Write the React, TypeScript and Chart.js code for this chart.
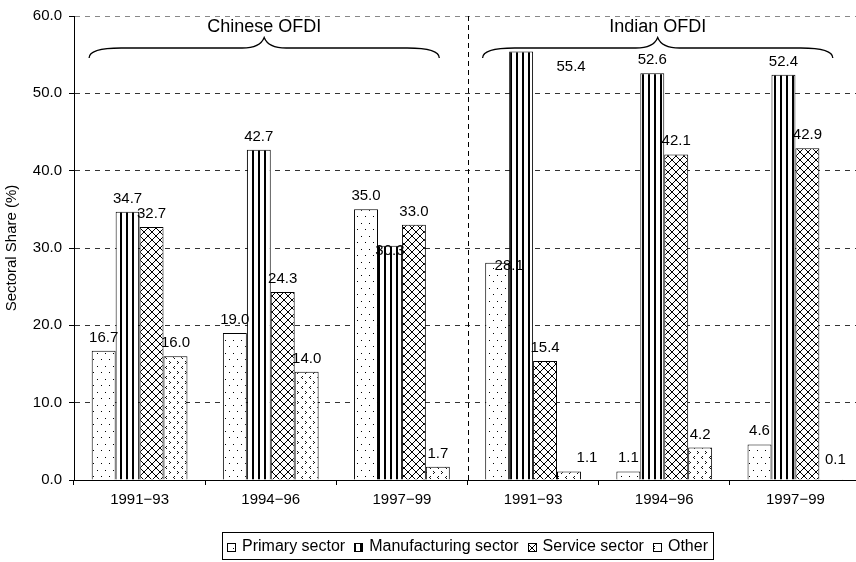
import React, { useEffect, useRef } from 'react';
import { Chart, registerables } from 'chart.js';

Chart.register(...registerables);

const categories = ['1991\u221293', '1994\u221296', '1997\u221299', '1991\u221293', '1994\u221296', '1997\u221299'];
const seriesNames = ['Primary sector', 'Manufacturing sector', 'Service sector', 'Other'];
const primary = [16.7, 19.0, 35.0, 28.1, 1.1, 4.6];
const manufacturing = [34.7, 42.7, 30.3, 55.4, 52.6, 52.4];
const service = [32.7, 24.3, 33.0, 15.4, 42.1, 42.9];
const other = [16.0, 14.0, 1.7, 1.1, 4.2, 0.1];
const yTicks = [0, 10, 20, 30, 40, 50, 60];
const groupLabels = ['Chinese OFDI', 'Indian OFDI'];
const groupFirst = [0, 3];
const groupLast = [2, 5];

// label nudges (dataset, index, dx, dy) for labels that the original placed off-centre
const labelNudges: [number, number, number, number][] = [
  [0, 3, 12, 16],
  [1, 2, 0, 18],
  [1, 3, 50, 28],
  [3, 3, 18, 0],
  [3, 5, 4, -6],
];

const FONT = '"Liberation Sans", Arial, sans-serif';

function makePattern(kind: string): CanvasPattern | string {
  const c = document.createElement('canvas');
  const ctx = c.getContext('2d');
  if (!ctx) return '#fff';
  if (kind === 'dots') {
    c.width = 8; c.height = 13;
    ctx.fillStyle = '#fff'; ctx.fillRect(0, 0, 8, 13);
    ctx.fillStyle = '#000';
    ctx.fillRect(1, 2, 1, 1);
    ctx.fillRect(5, 8, 1, 1);
  } else if (kind === 'vlines') {
    c.width = 6; c.height = 4;
    ctx.fillStyle = '#fff'; ctx.fillRect(0, 0, 6, 4);
    ctx.fillStyle = '#000';
    ctx.fillRect(0, 0, 2, 4);
  } else if (kind === 'cross') {
    c.width = 8; c.height = 8;
    ctx.fillStyle = '#fff'; ctx.fillRect(0, 0, 8, 8);
    ctx.strokeStyle = '#000';
    ctx.lineWidth = 1;
    ctx.beginPath();
    ctx.moveTo(-1, -1); ctx.lineTo(9, 9);
    ctx.moveTo(9, -1); ctx.lineTo(-1, 9);
    ctx.stroke();
  } else {
    c.width = 8; c.height = 10;
    ctx.fillStyle = '#fff'; ctx.fillRect(0, 0, 8, 10);
    ctx.fillStyle = '#111';
    ctx.fillRect(1, 1, 1, 1); ctx.fillRect(2, 2, 1, 1); ctx.fillRect(1, 3, 1, 1);
    ctx.fillRect(6, 6, 1, 1); ctx.fillRect(5, 7, 1, 1); ctx.fillRect(6, 8, 1, 1);
  }
  return ctx.createPattern(c, 'repeat') || '#fff';
}

export default function App() {
  const ref = useRef<HTMLCanvasElement | null>(null);

  useEffect(() => {
    if (!ref.current) return;
    const patterns = [makePattern('dots'), makePattern('vlines'), makePattern('cross'), makePattern('other')];
    const series = [primary, manufacturing, service, other];

    const overlay = {
      id: 'overlay',
      afterDatasetsDraw(chart: any) {
        const ctx = chart.ctx as CanvasRenderingContext2D;
        ctx.save();
        ctx.font = `15px ${FONT}`;
        ctx.fillStyle = '#000';
        ctx.textAlign = 'center';
        ctx.textBaseline = 'alphabetic';
        series.forEach((vals, di) => {
          const meta = chart.getDatasetMeta(di);
          meta.data.forEach((el: any, i: number) => {
            let dx = 0, dy = 0;
            labelNudges.forEach(([d, k, nx, ny]) => { if (d === di && k === i) { dx = nx; dy = ny; } });
            ctx.fillText(vals[i].toFixed(1), el.x + dx, el.y - 9 + dy);
          });
        });
        ctx.restore();
      },
      afterDraw(chart: any) {
        const ctx = chart.ctx as CanvasRenderingContext2D;
        const area = chart.chartArea;
        const xs = chart.scales.x;
        const w = xs.getPixelForValue(1) - xs.getPixelForValue(0);
        ctx.save();
        // separator
        const sx = Math.round((xs.getPixelForValue(2) + xs.getPixelForValue(3)) / 2) + 0.5;
        ctx.strokeStyle = '#000';
        ctx.lineWidth = 1;
        ctx.setLineDash([5, 4]);
        ctx.beginPath();
        ctx.moveTo(sx, area.top);
        ctx.lineTo(sx, area.bottom);
        ctx.stroke();
        ctx.setLineDash([]);
        // braces
        groupLabels.forEach((lab, g) => {
          const left = xs.getPixelForValue(groupFirst[g]) - 0.385 * w;
          const right = xs.getPixelForValue(groupLast[g]) + 0.285 * w;
          const mid = (left + right) / 2;
          const yTip = area.top + 21.5;
          const yH = area.top + 32;
          const yEnd = area.top + 42;
          ctx.lineWidth = 1.3;
          ctx.beginPath();
          ctx.moveTo(left, yEnd);
          ctx.bezierCurveTo(left, yH + 3, left + 10, yH, left + 32, yH);
          ctx.lineTo(mid - 22, yH);
          ctx.quadraticCurveTo(mid - 4, yH, mid, yTip);
          ctx.quadraticCurveTo(mid + 4, yH, mid + 22, yH);
          ctx.lineTo(right - 32, yH);
          ctx.bezierCurveTo(right - 10, yH, right, yH + 3, right, yEnd);
          ctx.stroke();
          ctx.font = `18px ${FONT}`;
          ctx.fillStyle = '#000';
          ctx.textAlign = 'center';
          ctx.textBaseline = 'middle';
          ctx.fillText(lab, mid, area.top + 11);
        });
        // legend
        ctx.font = `16px ${FONT}`;
        const box = 9, gapBT = 6, gapItem = 9;
        const widths = seriesNames.map((n) => ctx.measureText(n).width);
        const total = widths.reduce((a, b) => a + b + box + gapBT, 0) + gapItem * (seriesNames.length - 1);
        const cx = (area.left + area.right) / 2;
        let x = cx - total / 2;
        const ly = area.bottom + 52;
        ctx.lineWidth = 1;
        ctx.strokeStyle = '#000';
        ctx.strokeRect(Math.round(x - 5) + 0.5, ly + 0.5, Math.round(total + 10), 27);
        const cy = ly + 15;
        ctx.textAlign = 'left';
        ctx.textBaseline = 'middle';
        seriesNames.forEach((n, i) => {
          const bx = Math.round(x);
          const by = Math.round(cy - box / 2);
          ctx.fillStyle = patterns[i] as any;
          ctx.fillRect(bx, by, box, box);
          ctx.strokeRect(bx + 0.5, by + 0.5, box - 1, box - 1);
          ctx.fillStyle = '#000';
          ctx.fillText(n, x + box + gapBT, cy);
          x += box + gapBT + widths[i] + gapItem;
        });
        ctx.restore();
      },
    };

    const chart = new Chart(ref.current, {
      type: 'bar',
      data: {
        labels: categories,
        datasets: series.map((vals, i) => ({
          label: seriesNames[i],
          data: vals,
          backgroundColor: patterns[i] as any,
          borderColor: '#000',
          borderWidth: 1,
          categoryPercentage: 0.73,
          barPercentage: 1,
        })),
      },
      options: {
        responsive: false,
        animation: false,
        devicePixelRatio: 1,
        layout: { padding: { left: 0, right: 1, top: 10, bottom: 0 } },
        plugins: { legend: { display: false }, tooltip: { enabled: false } },
        scales: {
          x: {
            offset: true,
            grid: { display: true, drawOnChartArea: false, drawTicks: true, tickLength: 5, offset: true, color: '#000' },
            border: { display: true, color: '#000', width: 1 },
            ticks: { color: '#000', font: { size: 15, family: FONT }, padding: 6, maxRotation: 0, autoSkip: false },
            afterFit: (s: any) => { s.height = 82; },
          },
          y: {
            min: 0,
            max: 60,
            afterBuildTicks: (s: any) => { s.ticks = yTicks.map((v) => ({ value: v })); },
            ticks: { color: '#000', font: { size: 15, family: FONT }, padding: 7, callback: (v: any) => Number(v).toFixed(1) },
            grid: {
              color: (c: any) => (c.tick && c.tick.value === 60 ? '#888' : c.tick && c.tick.value === 0 ? 'rgba(0,0,0,0)' : '#333'),
              tickColor: '#000',
              tickLength: 5,
              lineWidth: 1,
            },
            border: { display: true, color: '#000', width: 1, dash: [5, 5] },
            title: { display: true, text: 'Sectoral Share (%)', color: '#000', font: { size: 15, family: FONT }, padding: { top: 3, bottom: 0 } },
            afterFit: (s: any) => { s.width = 74; },
          },
        },
      },
      plugins: [overlay],
    });
    return () => chart.destroy();
  }, []);

  return (
    <div style={{ position: 'fixed', left: 0, top: 0, width: 856, height: 562, overflow: 'hidden', background: '#fff' }}>
      <canvas ref={ref} width={862} height={562} style={{ display: 'block', width: 862, height: 562 }} />
    </div>
  );
}
